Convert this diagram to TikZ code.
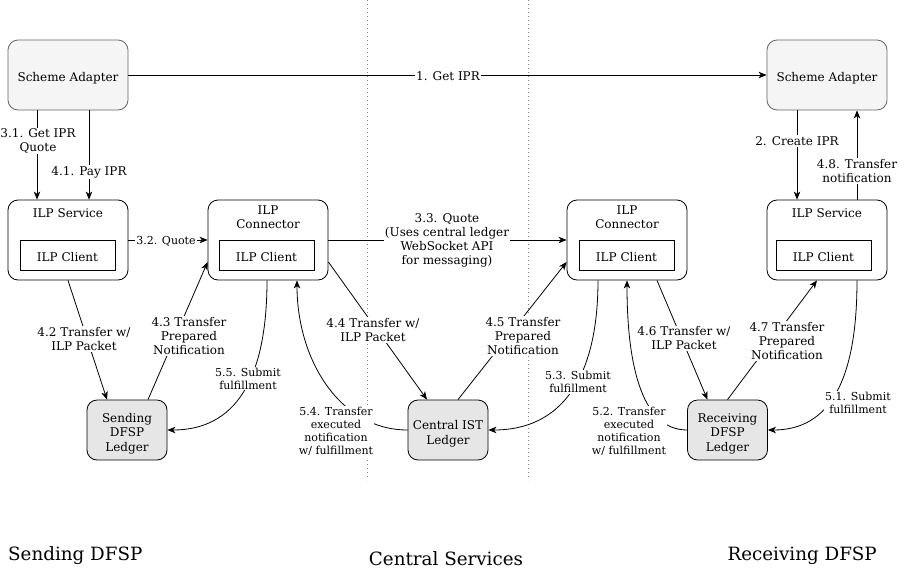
\documentclass[tikz,border=0pt]{standalone}
\usepackage{fontspec}
\setmainfont{DejaVu Serif}
\usetikzlibrary{arrows.meta}
\definecolor{sastroke}{HTML}{666666}
\definecolor{safill}{HTML}{F5F5F5}
\definecolor{ledfill}{HTML}{E6E6E6}
\newcommand{\lowerstrut}{\rule{0pt}{16.5pt}}
\begin{document}
\begin{tikzpicture}[x=1pt,y=-1pt,
  every node/.style={align=center},
  txt/.style={font=\fontsize{12}{14.5}\selectfont, inner sep=0pt},
  sabox/.style={draw=sastroke, fill=safill, rounded corners=10pt, line width=0.8pt,
    minimum width=120pt, minimum height=70pt, font=\fontsize{12}{14.5}\selectfont,
    text height=12.5pt, text depth=0pt},
  outerbox/.style={draw, fill=white, rounded corners=10pt, line width=0.8pt,
    minimum width=120pt, minimum height=80pt, inner sep=0pt},
  client/.style={draw, fill=white, line width=0.8pt, minimum width=95pt,
    minimum height=30pt, font=\fontsize{12}{14.5}\selectfont,
    text height=12pt, text depth=0pt},
  ledger/.style={draw, fill=ledfill, rounded corners=10pt, line width=0.8pt,
    minimum width=80pt, minimum height=60pt, inner sep=0pt,
    font=\fontsize{12}{14.5}\selectfont},
  arr/.style={-{Stealth[length=8pt,width=6.5pt,inset=2.2pt]}, line width=0.8pt},
  lbl/.style={fill=white, inner sep=1pt, font=\fontsize{12}{14}\selectfont},
  slbl/.style={fill=white, inner sep=1pt, font=\fontsize{11}{13}\selectfont},
  zone/.style={font=\fontsize{18.3}{21}\selectfont, inner sep=0pt},
  divider/.style={draw=gray, line width=0.8pt, dash pattern=on 1.2pt off 2.8pt}
]
\useasboundingbox (0,0) rectangle (908,571);

% dividers
\coordinate (d1t) at (367,0);
\coordinate (d1b) at (367,480);
\coordinate (d2t) at (528,0);
\coordinate (d2b) at (528,480);
\draw[divider] (d1t) -- (d1b);
\draw[divider] (d2t) -- (d2b);

% scheme adapters
\node[sabox] (saL) at (68,75) {Scheme Adapter};
\node[sabox] (saR) at (827,75) {Scheme Adapter};

% ILP service left
\node[outerbox] (ilpsL) at (68,240) {};
\node[txt] (ilpsLt) at (68,213) {ILP Service};
\node[client] (clL) at (67.5,255) {ILP Client};

% ILP connector left
\node[outerbox] (connL) at (268,240) {};
\node[txt] (connLt) at (268,217) {ILP\\Connector};
\node[client] (cclL) at (266.5,255) {ILP Client};

% ILP connector right
\node[outerbox] (connR) at (627,240) {};
\node[txt] (connRt) at (627,217) {ILP\\Connector};
\node[client] (cclR) at (626.5,255) {ILP Client};

% ILP service right
\node[outerbox] (ilpsR) at (827,240) {};
\node[txt] (ilpsRt) at (827,213) {ILP Service};
\node[client] (clR) at (823.5,255) {ILP Client};

% ledgers
\node[ledger] (ledS) at (127,430) {\lowerstrut Sending\\DFSP\\Ledger};
\node[ledger] (ledC) at (448,430) {\lowerstrut Central IST\\Ledger};
\node[ledger] (ledR) at (727.5,430) {\lowerstrut Receiving\\DFSP\\Ledger};

% straight connectors
\draw[arr] (saL.east) -- (saR.west);
\draw[arr] ([xshift=-30pt]saR.south) -- ([xshift=-30pt]ilpsR.north);
\draw[arr] ([xshift=-31pt]saL.south) -- ([xshift=-31pt]ilpsL.north);
\draw[arr] ([xshift=21pt]saL.south) -- ([xshift=21pt]ilpsL.north);
\draw[arr] ([xshift=30pt]ilpsR.north) -- ([xshift=30pt]saR.south);
\draw[arr] (ilpsL.east) -- (connL.west);
\draw[arr] (connL.east) -- (connR.west);
\draw[arr] (ilpsL.south) -- ([xshift=-20pt]ledS.north);
\draw[arr] ([xshift=21pt]ledS.north) -- ([yshift=-22pt]connL.west);
\draw[arr] ([yshift=-22pt]connL.east) -- ([xshift=-21pt]ledC.north);
\draw[arr] ([xshift=10pt]ledC.north) -- ([yshift=-22pt]connR.west);
\draw[arr] ([xshift=30pt]connR.south) -- ([xshift=-20pt]ledR.north);
\draw[arr] (ledR.north) -- ([xshift=-10pt]ilpsR.south);

% curved connectors
\draw[arr] ([xshift=-1pt]connL.south) .. controls (267,380) and (235,430) .. (ledS.east);
\draw[arr] (ledC.west) .. controls (340,430) and (297,360) .. ([xshift=29pt]connL.south);
\draw[arr] ([xshift=-29pt]connR.south) .. controls (598,380) and (560,430) .. (ledC.east);
\draw[arr] (ledR.west) .. controls (640,430) and (627,360) .. (connR.south);
\draw[arr] ([xshift=30pt]ilpsR.south) .. controls (857,380) and (830,430) .. (ledR.east);

% labels
\node[lbl] (l1) at (448,76.5) {1. Get IPR};
\node[lbl] (l2) at (797,141) {2. Create IPR};
\node[lbl] (l31) at (38,141) {3.1. Get IPR\\Quote};
\node[lbl] (l41) at (89,172) {4.1. Pay IPR};
\node[lbl] (l48) at (857,171) {4.8. Transfer\\notification};
\node[slbl] (l32) at (166,241) {3.2. Quote};
\node[lbl] (l33) at (447,240.5) {3.3. Quote\\(Uses central ledger\\WebSocket API\\for messaging)};
\node[lbl] (l42) at (84,339) {4.2 Transfer w/\\ILP Packet};
\node[lbl] (l43) at (189,336) {4.3 Transfer\\Prepared\\Notification};
\node[lbl] (l44) at (373,330) {4.4 Transfer w/\\ILP Packet};
\node[lbl] (l45) at (523,336) {4.5 Transfer\\Prepared\\Notification};
\node[lbl] (l46) at (684,338.5) {4.6 Transfer w/\\ILP Packet};
\node[lbl] (l47) at (787,341) {4.7 Transfer\\Prepared\\Notification};
\node[slbl] (l51) at (858,403) {5.1. Submit\\fulfillment};
\node[slbl] (l52) at (629,431.5) {5.2. Transfer\\executed\\notification\\w/ fulfillment};
\node[slbl] (l53) at (578,382) {5.3. Submit\\fulfillment};
\node[slbl] (l54) at (336,431.5) {5.4. Transfer\\executed\\notification\\w/ fulfillment};
\node[slbl] (l55) at (248,378.5) {5.5. Submit\\fulfillment};

% zone labels
\node[zone, anchor=west] (zS) at (8,555.5) {Sending DFSP};
\node[zone] (zC) at (446,558.5) {Central Services};
\node[zone, anchor=east] (zR) at (877,555.5) {Receiving DFSP};
\end{tikzpicture}
\end{document}
